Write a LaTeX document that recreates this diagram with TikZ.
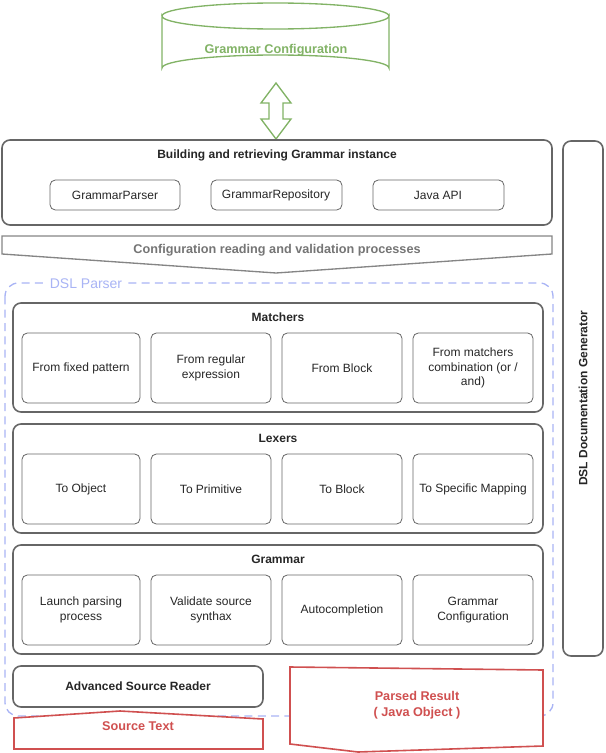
\documentclass[tikz,border=0pt]{standalone}
\usepackage{fontspec}
\setmainfont{Liberation Sans}
\usetikzlibrary{shapes.geometric}
\definecolor{grn}{HTML}{82B366}
\definecolor{gry}{HTML}{666666}
\definecolor{dsl}{HTML}{A9B4F5}
\definecolor{rd}{HTML}{D05050}
\begin{document}
\begin{tikzpicture}[x=0.75pt,y=-0.75pt,
  box/.style={draw=gry,line width=1.2pt,rounded corners=6pt},
  sub/.style={draw=gry,line width=0.6pt,rounded corners=4pt},
  ttl/.style={font=\bfseries\fontsize{9}{11}\selectfont,text=black!85},
  txt/.style={font=\fontsize{9}{11}\selectfont,text=black!85,align=center}]
\useasboundingbox (0,0) rectangle (606,753);
% cylinder
\draw[grn,line width=1pt,fill=white] (162,16) -- (162,68) arc[start angle=180,end angle=360,x radius=113.5,y radius=13] -- (389,16) arc[start angle=0,end angle=180,x radius=113.5,y radius=13] -- cycle;
\draw[grn,line width=1pt] (162,16) arc[start angle=180,end angle=360,x radius=113.5,y radius=13];
\node[text=grn,font=\bfseries\fontsize{9.5}{11}\selectfont] (gc) at (276,50) {Grammar Configuration};
% double arrow
\draw[grn,line width=1pt,fill=white] (276,83) -- (291,103) -- (283,103) -- (283,119) -- (291,119) -- (276,139) -- (261,119) -- (269,119) -- (269,103) -- (261,103) -- cycle;
% building
\draw[box] (2,140) rectangle (552,225);
\node[ttl] (bt) at (277,155) {Building and retrieving Grammar instance};
\draw[sub] (50,180) rectangle (180,210); \node[txt] (g1) at (115,195) {GrammarParser};
\draw[sub] (211,180) rectangle (342,210); \node[txt] (g2) at (276,195) {GrammarRepository};
\draw[sub] (373,180) rectangle (504,210); \node[txt] (g3) at (438,195) {Java API};
% right box
\draw[box] (563,141) rectangle (603,656);
\node[ttl,rotate=90] (doc) at (583,398) {DSL Documentation Generator};
% config arrow
\draw[gry!80,line width=1pt,fill=white] (2,236) -- (552,236) -- (552,254) -- (276,273) -- (2,254) -- cycle;
\node[text=gry!90,font=\bfseries\fontsize{9.5}{11}\selectfont] (cr) at (277,250) {Configuration reading and validation processes};
% DSL parser
\draw[dsl,line width=1pt,dashed,dash pattern=on 6pt off 4pt,rounded corners=10pt] (5,283) rectangle (553,716);
\node[fill=white,text=dsl,font=\fontsize{10.5}{12}\selectfont,inner sep=2pt] (dp) at (86,284) {DSL Parser};
% groups
\foreach \y/\t/\a/\b/\c/\d in {303/Matchers/From fixed pattern/From regular\\expression/From Block/From matchers\\combination (or {/}\\and),
  424/Lexers/To Object/To Primitive/To Block/To Specific Mapping,
  545/Grammar/Launch parsing\\process/Validate source\\synthax/Autocompletion/Grammar\\Configuration}{
  \draw[box] (13,\y) rectangle (543,\y+109);
  \node[ttl] at (278,\y+14) {\t};
  \draw[sub] (22,\y+30) rectangle (140,\y+100); \node[txt] at (81,\y+65) {\a};
  \draw[sub] (151,\y+30) rectangle (271,\y+100); \node[txt] at (211,\y+65) {\b};
  \draw[sub] (282,\y+30) rectangle (402,\y+100); \node[txt] at (342,\y+65) {\c};
  \draw[sub] (413,\y+30) rectangle (533,\y+100); \node[txt] at (473,\y+65) {\d};
}
\draw[box] (13,666) rectangle (263,707);
\node[ttl] (asr) at (138,686) {Advanced Source Reader};
% source text
\draw[rd,line width=1.2pt,fill=white] (14,718) -- (120,711) -- (263,719) -- (263,749) -- (14,749) -- cycle;
\node[text=rd,font=\bfseries\fontsize{9.5}{11}\selectfont] (st) at (138,726) {Source Text};
% parsed result
\draw[rd,line width=1.2pt,fill=white] (290,667) -- (543,670) -- (543,746) -- (358,752) -- (290,744) -- cycle;
\node[text=rd,font=\bfseries\fontsize{9.5}{12}\selectfont,align=center] (pr) at (417,705) {Parsed Result\\( Java Object )};
\end{tikzpicture}
\end{document}
